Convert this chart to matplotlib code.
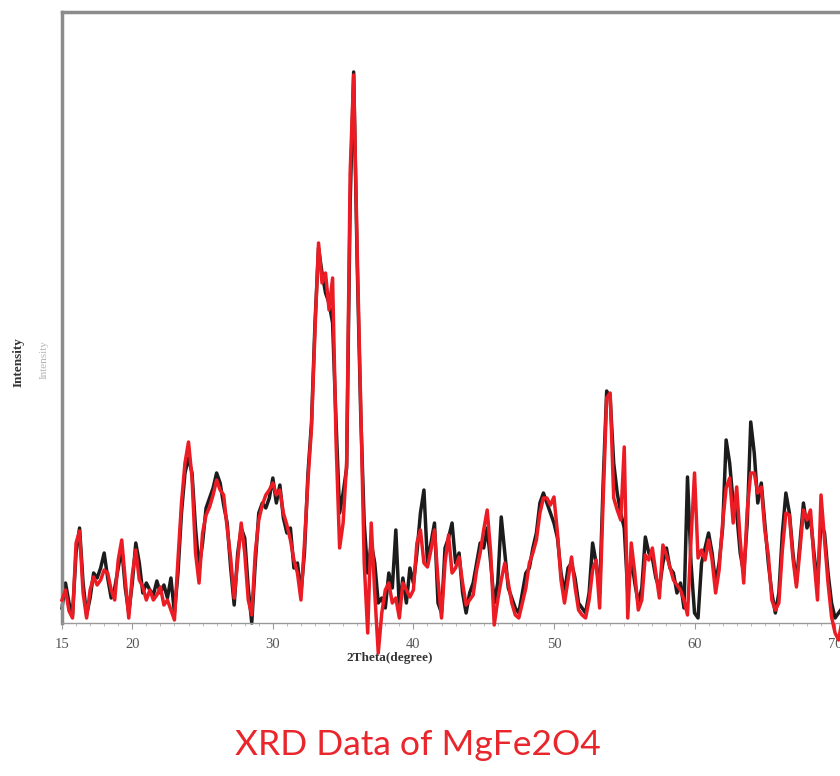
import matplotlib.pyplot as plt
import numpy as np

# XRD scan: start angle and step (degrees 2theta)
scan_start = 15.0
scan_step = 0.25

# intensities (arbitrary units)
red_counts = [
    23, 33, 12, 5, 80, 92, 30, 5, 33, 46, 38, 43, 53, 50, 33, 23,
    63, 83, 43, 5, 48, 73, 43, 36, 23, 33, 23, 28, 36, 18, 23, 13,
    3, 63, 120, 160, 181, 145, 70, 40, 90, 108, 116, 128, 143, 133, 128, 95,
    65, 25, 63, 100, 70, 23, 8, 70, 103, 118, 128, 133, 140, 128, 133, 110,
    98, 83, 63, 50, 23, 80, 143, 195, 293, 380, 340, 350, 313, 345, 180, 75,
    100, 160, 450, 548, 373, 220, 60, -10, 100, 30, -30, 10, 33, 40, 20, 25,
    5, 40, 33, 26, 33, 80, 93, 60, 56, 73, 93, 43, 5, 60, 88, 50,
    55, 66, 40, 18, 23, 28, 53, 70, 93, 113, 70, -2, 23, 43, 60, 40,
    20, 8, 5, 20, 35, 60, 70, 83, 110, 125, 125, 118, 126, 90, 43, 20,
    43, 66, 36, 13, 8, 5, 23, 53, 63, 15, 123, 225, 230, 125, 113, 103,
    176, 5, 80, 50, 13, 23, 68, 63, 75, 50, 25, 78, 68, 56, 43, 38,
    33, 23, 8, 83, 150, 65, 73, 63, 83, 63, 30, 53, 100, 135, 145, 100,
    136, 83, 40, 113, 150, 150, 130, 136, 93, 68, 23, 13, 20, 73, 110, 108,
    65, 36, 73, 113, 103, 113, 63, 23, 128, 83, 40, 6, -10, -17, 3,
]

black_counts = [
    15, 40, 20, 8, 70, 95, 40, 8, 25, 50, 45, 55, 70, 45, 25, 35,
    55, 75, 35, 10, 40, 80, 60, 30, 40, 33, 28, 42, 30, 38, 25, 45,
    10, 50, 110, 150, 165, 150, 95, 55, 80, 115, 125, 135, 150, 140, 118, 100,
    55, 18, 70, 95, 85, 35, 0, 60, 110, 120, 115, 125, 145, 120, 138, 105,
    90, 95, 55, 60, 30, 70, 150, 200, 300, 375, 350, 330, 320, 300, 200, 110,
    130, 155, 420, 551, 360, 210, 100, 50, 80, 60, 20, 25, 15, 50, 35, 93,
    15, 45, 20, 55, 40, 70, 110, 133, 60, 80, 100, 20, 10, 75, 85, 100,
    60, 70, 30, 10, 30, 40, 60, 80, 75, 95, 60, 20, 40, 106, 70, 35,
    25, 15, 10, 30, 50, 55, 75, 90, 120, 130, 120, 110, 100, 85, 50, 30,
    55, 60, 45, 20, 15, 10, 30, 80, 60, 30, 140, 232, 225, 160, 130, 110,
    95, 30, 65, 40, 20, 35, 86, 70, 65, 45, 35, 60, 75, 55, 50, 30,
    40, 15, 146, 60, 10, 5, 60, 75, 90, 70, 40, 60, 95, 183, 160, 120,
    110, 70, 50, 100, 201, 170, 120, 140, 100, 60, 30, 10, 30, 90, 130, 110,
    70, 40, 80, 120, 95, 105, 70, 40, 100, 90, 50, 20, 5, 10, 15,
]

xtick_values = [15, 20, 30, 40, 50, 60, 70]

two_theta = scan_start + scan_step * np.arange(len(red_counts))

fig = plt.figure(figsize=(8.4, 7.76), dpi=100)
ax = fig.add_axes([62 / 840, 153 / 776, 778 / 840, 611 / 776])

ax.plot(two_theta, black_counts, color="#1c1c1c", lw=2.5, clip_on=False, zorder=2)
ax.plot(two_theta, red_counts, color="#ec1c24", lw=2.5, clip_on=False, zorder=3)

ax.set_xlim(15, 70.35)
ax.set_ylim(0, 611)

for side in ["top", "left"]:
    ax.spines[side].set_color("#8c8c8c")
    ax.spines[side].set_linewidth(2.5)
ax.spines["right"].set_visible(False)
ax.spines["bottom"].set_color("#9a9a9a")
ax.spines["bottom"].set_linewidth(1.0)

ax.set_yticks([])
ax.set_xticks(xtick_values)
ax.set_xticks(np.arange(16, 71, 1), minor=True)
ax.tick_params(axis="x", which="major", length=4, color="#9a9a9a", pad=7,
               labelsize=10.5, labelcolor="#555555")
ax.tick_params(axis="x", which="minor", length=2.5, color="#b0b0b0")
for lab in ax.get_xticklabels():
    lab.set_family("Liberation Serif")

fig.text(390 / 840, 1 - 658 / 776, "2Theta(degree)", ha="center", va="center",
         family="Liberation Serif", fontweight="bold", fontsize=9.5, color="#333333")
fig.text(19 / 840, 1 - 362 / 776, "Intensity", ha="center", va="center", rotation=90,
         family="Liberation Serif", fontweight="bold", fontsize=9.5, color="#333333")
fig.text(44 / 840, 1 - 360 / 776, "Intensity", ha="center", va="center", rotation=90,
         family="Liberation Serif", fontsize=8, color="#b5b5b5")

fig.text(418 / 840, 1 - 745 / 776, "XRD Data of MgFe2O4", ha="center", va="center",
         family="Lato", fontsize=25.5, color="#e8262c")

fig.savefig("out.png", dpi=100, facecolor="white")
